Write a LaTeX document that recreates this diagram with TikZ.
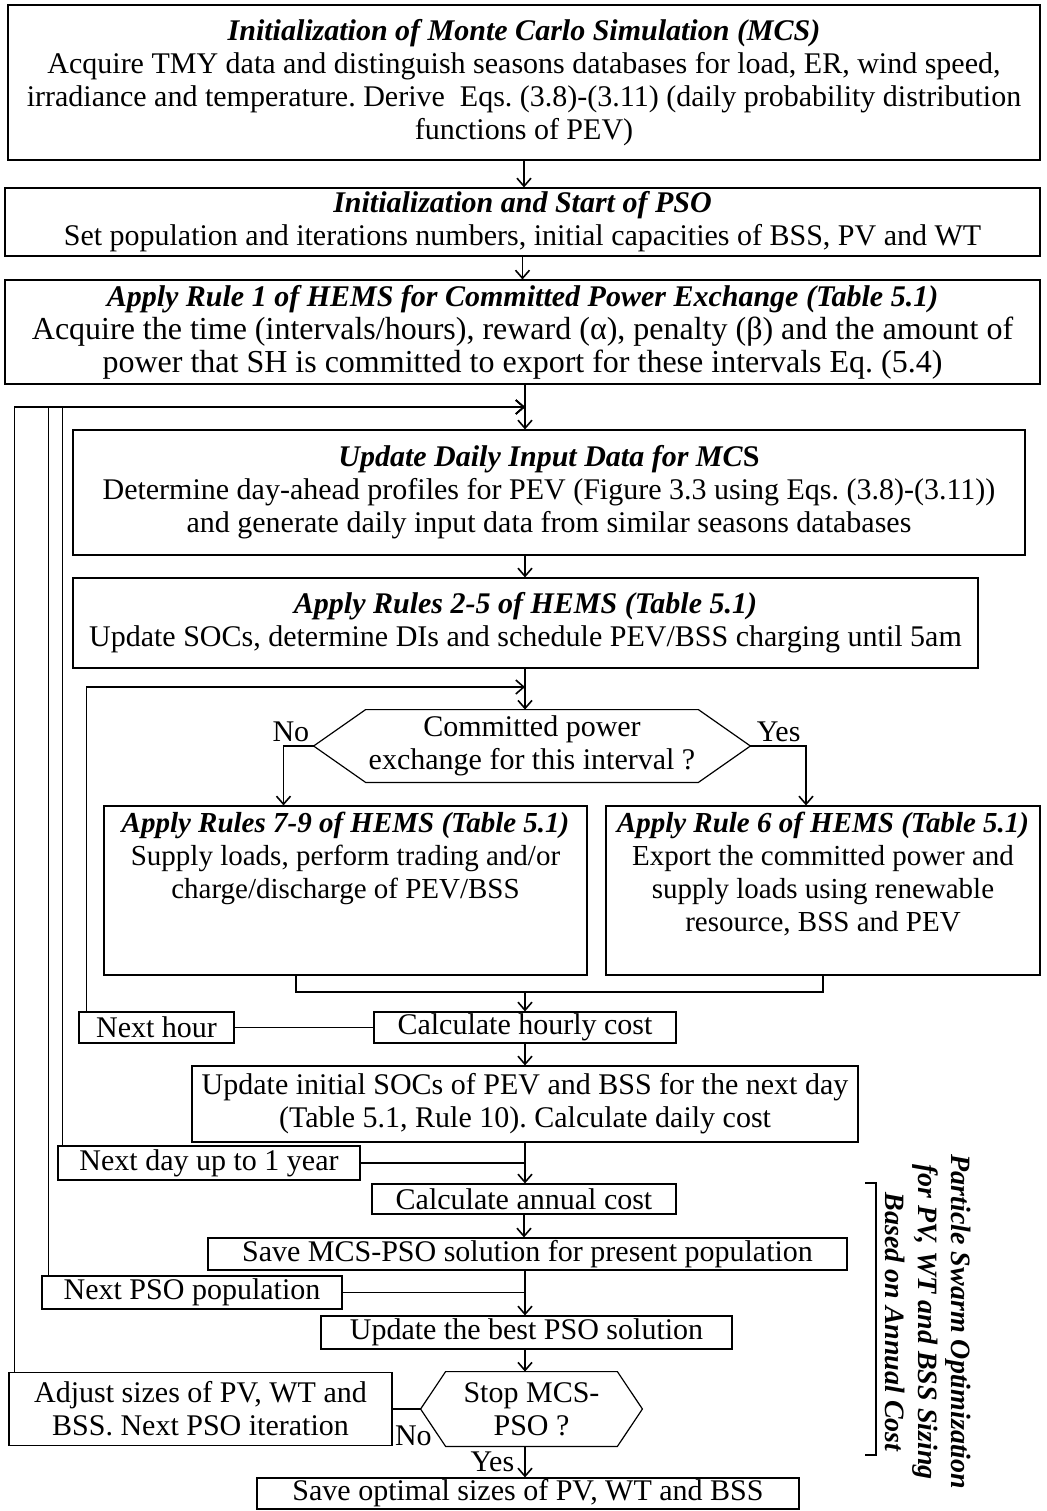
\documentclass[tikz,border=0pt]{standalone}
\usepackage{fontspec}
\setmainfont{Liberation Serif}
\usetikzlibrary{arrows.meta}
\usetikzlibrary{positioning}
\usetikzlibrary{calc}
\frenchspacing

\tikzset{
  box/.style={draw, line width=0.6pt, align=center, inner sep=0pt, font=\fontsize{15}{16.5}\selectfont},
  tag/.style={box, inner xsep=3pt},
  arr/.style={line width=0.8pt, -{Straight Barb[length=4pt,width=7pt]}},
  wire/.style={line width=0.8pt},
  lbl/.style={inner sep=1pt, font=\fontsize{15}{16.5}\selectfont},
}
\newcommand{\ttl}[1]{\textbf{\textit{#1}}}
\newcommand{\bigtxt}{\fontsize{16}{17}\selectfont}
\newcommand{\ruletxt}{\fontsize{14.5}{16.5}\selectfont}

\begin{document}
\begin{tikzpicture}[x=0.5pt, y=-0.5pt]
    \useasboundingbox (0,0) rectangle (1046,1511);

    % setup boxes
    \node[box, minimum width=516pt, minimum height=77.5pt] (init) at (524,82.5)
        {\ttl{Initialization of Monte Carlo Simulation (MCS)}\\
         Acquire TMY data and distinguish seasons databases for load, ER, wind speed,\\
         irradiance and temperature. Derive\ \ Eqs. (3.8)-(3.11) (daily probability distribution\\
         functions of PEV)};
    \node[box, minimum width=517.5pt, minimum height=34pt] (pso) at (522.5,222)
        {\ttl{Initialization and Start of PSO}\\
         Set population and iterations numbers, initial capacities of BSS, PV and WT};
    \node[box, inner ysep=2.5pt, minimum width=517.5pt, minimum height=50pt] (rule1) at (522.5,332)
        {\ttl{Apply Rule 1 of HEMS for Committed Power Exchange (Table 5.1)}\\
         {\bigtxt Acquire the time (intervals/hours), reward (α), penalty (β) and the amount of}\\
         {\bigtxt power that SH is committed to export for these intervals Eq. (5.4)}};

    % daily loop
    \node[box, minimum width=476pt, minimum height=62.5pt] (daily) at (549,492.5)
        {\ttl{Update Daily Input Data for MC}\textbf{S}\\
         Determine day-ahead profiles for PEV (Figure 3.3 using Eqs. (3.8)-(3.11))\\
         and generate daily input data from similar seasons databases};
    \node[box, minimum width=452.5pt, minimum height=45pt] (rules25) at (525.5,623)
        {\ttl{Apply Rules 2-5 of HEMS (Table 5.1)}\\
         Update SOCs, determine DIs and schedule PEV/BSS charging until 5am};

    % hourly loop
    \node[lbl, inner sep=0pt, minimum width=218pt, minimum height=36pt, align=center] (dec) at (532,746)
        {Committed power\\exchange for this interval ?};
    \draw[line width=0.6pt] (dec.west) -- ([xshift=26pt]dec.north west) -- ([xshift=-26pt]dec.north east)
        -- (dec.east) -- ([xshift=-26pt]dec.south east) -- ([xshift=26pt]dec.south west) -- cycle;
    \node[box, minimum width=241.5pt, minimum height=84.5pt] (r79) at (345.5,890.5)
        {\begin{minipage}[t][84.5pt][t]{241.5pt}\centering\ruletxt\vspace*{3pt}
         \ttl{Apply Rules 7-9 of HEMS (Table 5.1)}\\
         Supply loads, perform trading and/or\\
         charge/discharge of PEV/BSS\end{minipage}};
    \node[box, minimum width=217pt, minimum height=84.5pt] (r6) at (823,890.5)
        {\begin{minipage}[t][84.5pt][t]{217pt}\centering\ruletxt\vspace*{3pt}
         \ttl{Apply Rule 6 of HEMS (Table 5.1)}\\
         Export the committed power and\\
         supply loads using renewable\\
         resource, BSS and PEV\end{minipage}};
    \node[box, minimum width=151pt, minimum height=15.5pt] (hourly) at (525,1027.5) {Calculate hourly cost};
    \node[tag, minimum width=77.5pt, minimum height=15.5pt] (nexthour) at (156.5,1027.5) {Next hour};

    \node[box, minimum width=333pt, minimum height=38pt] (updinit) at (525,1104)
        {Update initial SOCs of PEV and BSS for the next day\\
         (Table 5.1, Rule 10). Calculate daily cost};
    \node[tag, minimum width=151pt, minimum height=17pt] (nextday) at (209,1163) {Next day up to 1 year};

    % PSO loop
    \node[box, minimum width=152pt, minimum height=15pt] (annual) at (524,1199) {Calculate annual cost};
    \node[box, minimum width=319.5pt, minimum height=16pt] (savemcs) at (527.5,1254)
        {Save MCS-PSO solution for present population};
    \node[tag, minimum width=150pt, minimum height=16.5pt] (nextpso) at (192,1292.5) {Next PSO population};
    \node[box, minimum width=205.5pt, minimum height=16.5pt] (best) at (526.5,1332.5)
        {Update the best PSO solution};
    \node[lbl, inner sep=0pt, minimum width=110.5pt, minimum height=37pt, align=center] (stop) at (531.5,1409)
        {Stop MCS-\\PSO ?};
    \draw[line width=0.6pt] (stop.west) -- ([xshift=12.5pt]stop.north west) -- ([xshift=-12.5pt]stop.north east)
        -- (stop.east) -- ([xshift=-12.5pt]stop.south east) -- ([xshift=12.5pt]stop.south west) -- cycle;
    \node[box, minimum width=191.5pt, minimum height=36.5pt] (adjust) at (200.5,1409)
        {Adjust sizes of PV, WT and\\BSS. Next PSO iteration};
    \node[box, minimum width=271pt, minimum height=15.5pt] (saveopt) at (528,1493.5)
        {Save optimal sizes of PV, WT and BSS};

    % junction points on the main line
    \coordinate (jd) at (525,407);
    \coordinate (jh) at (525,687);
    \coordinate (jj) at (525,992);

    \draw[arr] (init.south) -- (init.south |- pso.north);
    \draw[arr] (pso.south) -- (pso.south |- rule1.north);
    \draw[wire] (rule1.south -| jd) -- (jd);
    \draw[arr] (jd) -- (jd |- daily.north);
    \draw[arr] (daily.south -| jd) -- (jd |- rules25.north);
    \draw[wire] (rules25.south -| jh) -- (jh);
    \draw[arr] (jh) -- (jh |- dec.north);

    \draw[arr] (dec.west) -| ([xshift=-31pt]r79.north);
    \draw[arr] (dec.east) -| ([xshift=-8.5pt]r6.north);
    \node[lbl, above left=1pt and 1pt of dec.west] (no1) {No};
    \node[lbl, above right=1pt and 2pt of dec.east] (yes1) {Yes};

    \draw[wire] ([xshift=-24.75pt]r79.south) |- (jj) -| (r6.south);
    \draw[arr] (jj) -- (hourly.north);
    \draw[wire] (hourly.west) -- (nexthour.east);
    \draw[arr] ([xshift=4pt]nexthour.north west) |- (jh);

    \draw[arr] (hourly.south) -- (hourly.south |- updinit.north);
    \draw[arr] (updinit.south) -- (updinit.south |- annual.north);
    \draw[wire] (nextday.east) -- (nextday.east -| updinit.south);
    \draw[arr] ([xshift=2.5pt]nextday.north west) |- (jd);

    \draw[arr] (annual.south) -- (annual.south |- savemcs.north);
    \draw[arr] (savemcs.south -| jd) -- (jd |- best.north);
    \draw[wire] (nextpso.east) -- (nextpso.east -| jd);
    \draw[arr] ([xshift=3.5pt]nextpso.north west) |- (jd);

    \draw[arr] (best.south -| jd) -- (jd |- stop.north);
    \draw[wire] (stop.west) -- (adjust.east);
    \draw[arr] ([xshift=3pt]adjust.north west) |- (jd);
    \node[lbl, below right=7pt and 0pt of adjust.east] (no2) {No};
    \draw[arr] (stop.south -| jd) -- (jd |- saveopt.north) node[lbl, midway, left=4pt] (yes2) {Yes};

    % bracket and side label
    \draw[line width=0.7pt] (865,1183) -- (876,1183) -- (876,1455) -- (865,1455);
    \node[rotate=-90, align=center, inner sep=0pt, font=\fontsize{14}{16.5}\selectfont\bfseries\itshape] (psolabel) at (928,1322)
        {Particle Swarm Optimization\\for PV, WT and BSS Sizing\\Based on Annual Cost};
\end{tikzpicture}
\end{document}
